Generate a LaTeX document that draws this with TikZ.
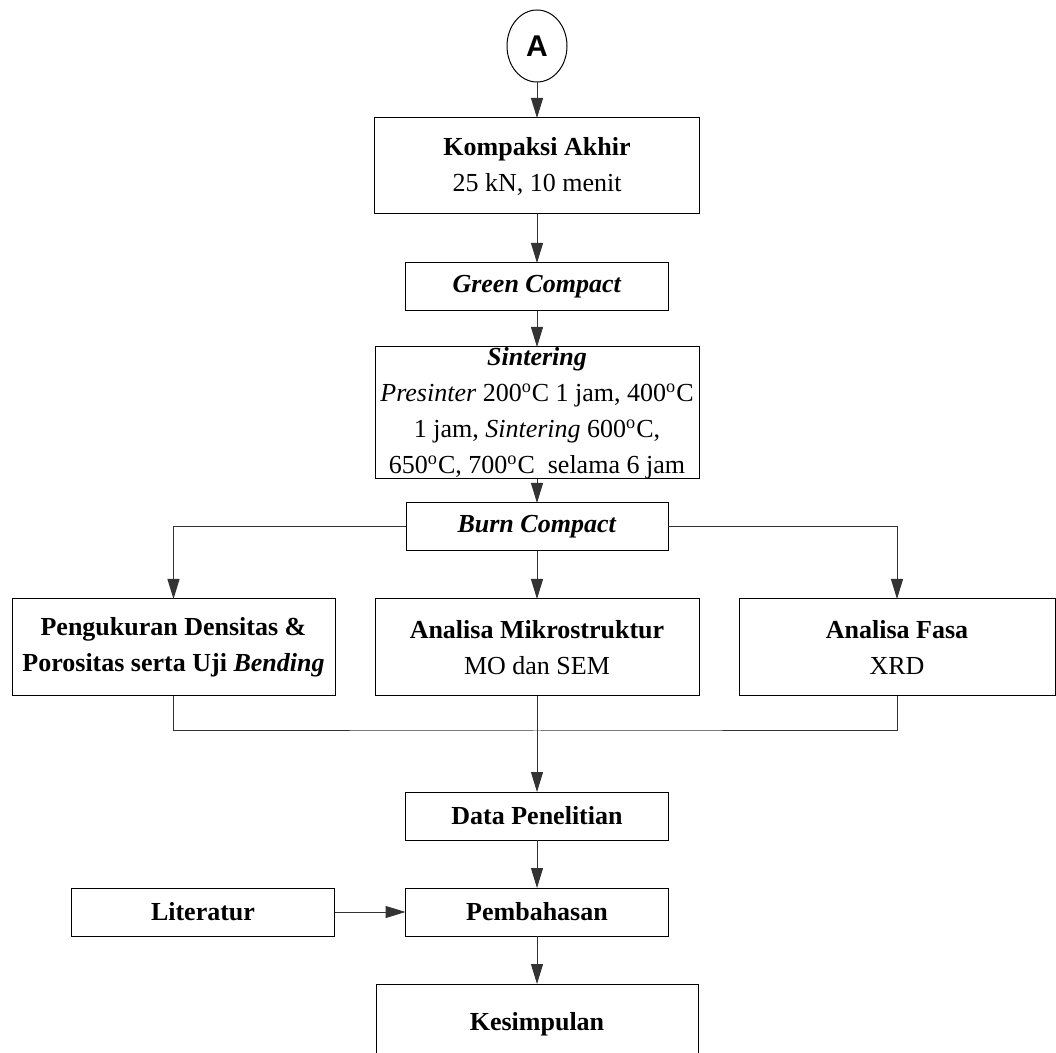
\documentclass[tikz,border=0pt]{standalone}
\usepackage{fontspec}
\setmainfont{Liberation Serif}
\newfontfamily\connfont{Liberation Sans}
\usetikzlibrary{positioning, arrows.meta, shapes.geometric}
\newcommand{\oC}{\textsuperscript{o}C}
\tikzset{
  box/.style={draw=black, line width=0.5pt, align=center, font=\fontsize{13}{18}\selectfont, inner sep=0pt, outer sep=0pt, minimum height=24pt},
  connector/.style={draw=black, line width=0.5pt, ellipse, minimum width=30pt, minimum height=36pt, inner sep=0pt, outer sep=0pt, font=\connfont\fontsize{15}{18}\selectfont\bfseries},
  flow/.style={-{Triangle[length=10pt, width=6pt]}, line width=0.5pt, draw=black!80},
  joinline/.style={line width=0.5pt, draw=black!80},
}
\begin{document}
\begin{tikzpicture}[node distance=24pt and 20pt]
  \useasboundingbox (0,0) rectangle (528pt,-526.5pt);
  \clip (0,0) rectangle (528pt,-526.5pt);

  % Main column
  \node[connector] (a) at (268.5pt,-23pt) {A};
  \node[box, below=18pt of a, minimum width=162.5pt, minimum height=48pt] (kompaksi) {\textbf{Kompaksi Akhir}\\25 kN, 10 menit};
  \node[box, below=24.5pt of kompaksi, minimum width=131.5pt] (green) {\textbf{\textit{Green Compact}}};
  \node[box, below=18pt of green, minimum width=162pt, minimum height=66pt] (sinter) {\textbf{\textit{Sintering}}\\\textit{Presinter} 200\oC{} 1 jam, 400\oC\\1 jam, \textit{Sintering} 600\oC,\\650\oC, 700\oC\ \ selama 6 jam};
  \node[box, below=12pt of sinter, minimum width=131pt] (burn) {\textbf{\textit{Burn Compact}}};
  \draw[flow] (a) -- (kompaksi);
  \draw[flow] (kompaksi) -- (green);
  \draw[flow] (green) -- (sinter);
  \draw[flow] (sinter) -- (burn);

  % Three tests
  \node[box, below=of burn, minimum width=162pt, minimum height=48.5pt] (mikro) {\textbf{Analisa Mikrostruktur}\\MO dan SEM};
  \node[box, left=of mikro, minimum width=161.5pt, minimum height=48.5pt] (ukur) {\textbf{Pengukuran Densitas \&}\\\textbf{Porositas serta Uji \textit{Bending}}};
  \node[box, right=of mikro, minimum width=158pt, minimum height=48.5pt] (fasa) {\textbf{Analisa Fasa}\\XRD};
  \draw[flow] (burn) -- (mikro);
  \draw[flow] (burn.west) -| (ukur.north);
  \draw[flow] (burn.east) -| (fasa.north);

  % Results and discussion
  \node[box, below=48pt of mikro, minimum width=131.5pt] (data) {\textbf{Data Penelitian}};
  \node[box, below=of data, minimum width=131.5pt] (bahas) {\textbf{Pembahasan}};
  \node[box, left=35.5pt of bahas, minimum width=131.5pt] (literatur) {\textbf{Literatur}};
  \node[box, below=of bahas, minimum width=161pt, minimum height=40pt] (simpul) {\textbf{Kesimpulan}};
  \coordinate[below=17.5pt of mikro] (join);
  \draw[joinline] (ukur.south) |- (join) -| (fasa.south);
  \draw[flow] (mikro) -- (data);
  \draw[flow] (data) -- (bahas);
  \draw[flow] (literatur) -- (bahas);
  \draw[flow] (bahas) -- (simpul);
\end{tikzpicture}
\end{document}
